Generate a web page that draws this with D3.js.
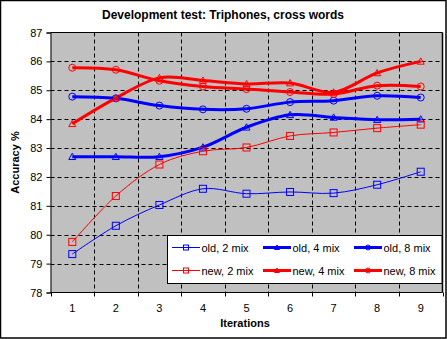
<!DOCTYPE html>
<html><head><meta charset="utf-8">
<script src="https://cdn.jsdelivr.net/npm/d3@7"></script>
<style>
body{margin:0;background:#fff;}
svg{display:block;font-family:"Liberation Sans",Arial,sans-serif;}
</style></head><body>
<svg id="c" width="447" height="339"></svg>
<script>
const iterations = [1,2,3,4,5,6,7,8,9];
const yTicks = [78,79,80,81,82,83,84,85,86,87];
const old2 = [79.33,80.31,81.03,81.59,81.42,81.48,81.44,81.73,82.18];
const old4 = [82.70,82.70,82.70,83.03,83.72,84.15,84.06,83.98,84.00];
const old8 = [84.78,84.72,84.47,84.34,84.36,84.59,84.64,84.81,84.75];
const new2 = [79.75,81.34,82.43,82.89,83.02,83.42,83.54,83.69,83.81];
const new4 = [83.84,84.73,85.43,85.34,85.22,85.25,84.93,85.60,86.00];
const new8 = [85.78,85.71,85.33,85.13,85.04,84.94,84.87,85.16,85.13];
const seriesNames = ["old, 2 mix","old, 4 mix","old, 8 mix","new, 2 mix","new, 4 mix","new, 8 mix"];
const seriesValues = [old2,old4,old8,new2,new4,new8];
const seriesColors = ["#0000ff","#0000ff","#0000ff","#ff0000","#ff0000","#ff0000"];
const seriesWidths = [1,3,3,1,3,3];
const seriesMarkers = ["square","triangle","circle","square","triangle","circle"];

const svg = d3.select("#c");
const L=50.5, R=442.5, T=32.5, B=292.5;

// outer border
svg.append("rect").attr("x",0.5).attr("y",0.5).attr("width",445.5).attr("height",337.5)
  .attr("fill","#fff").attr("stroke","#000").attr("stroke-width",1.5);

const x = d3.scaleBand().domain(iterations).range([L,R]).padding(0);
const y = d3.scaleLinear().domain([78,87]).range([B,T]);

svg.append("rect").attr("x",L).attr("y",T).attr("width",R-L).attr("height",B-T).attr("fill","#c0c0c0");

// gridlines
const g = svg.append("g");
yTicks.slice(1,-1).forEach(v=>{
  g.append("line").attr("x1",L).attr("x2",R).attr("y1",Math.round(y(v))+0.5).attr("y2",Math.round(y(v))+0.5)
   .attr("stroke","#000").attr("stroke-dasharray","4,3");
});
iterations.slice(1).forEach(v=>{
  const xx=Math.round(x(v))+0.5;
  g.append("line").attr("x1",xx).attr("x2",xx).attr("y1",T).attr("y2",B)
   .attr("stroke","#000").attr("stroke-dasharray","4,3");
});
// plot border top/right
svg.append("line").attr("x1",L).attr("x2",R).attr("y1",T).attr("y2",T).attr("stroke","#000");
svg.append("line").attr("x1",R).attr("x2",R).attr("y1",T).attr("y2",B).attr("stroke","#000").attr("stroke-width",1.5);

// axes
const yAxis = d3.axisLeft(y).tickValues(yTicks).tickSize(4).tickPadding(4).tickFormat(d3.format("d"));
const ya = svg.append("g").attr("transform",`translate(${L},0)`).call(yAxis);
const xAxis = d3.axisBottom(x).tickSize(0).tickPadding(12);
const xa = svg.append("g").attr("transform",`translate(0,${B})`).call(xAxis);
[ya,xa].forEach(a=>{
  a.select(".domain").attr("stroke","#000");
  a.selectAll(".tick line").attr("stroke","#000");
  a.selectAll("text").attr("font-size",11).attr("fill","#000").attr("font-family","Liberation Sans, Arial, sans-serif");
});
xa.select(".domain").remove();
svg.append("line").attr("x1",L).attr("x2",R).attr("y1",B).attr("y2",B).attr("stroke","#000");
// x tick marks at band boundaries
iterations.concat([null]).forEach((v,i)=>{
  const xx = v===null ? R : x(v);
  svg.append("line").attr("x1",Math.round(xx)+0.5).attr("x2",Math.round(xx)+0.5).attr("y1",B).attr("y2",B+4).attr("stroke","#000");
});

// titles
svg.append("text").attr("x",223).attr("y",19).attr("text-anchor","middle")
  .attr("font-size",12).attr("font-weight","bold").text("Development test: Triphones, cross words");
svg.append("text").attr("x",245).attr("y",327).attr("text-anchor","middle")
  .attr("font-size",11).attr("font-weight","bold").text("Iterations");
svg.append("text").attr("transform",`translate(18.5,${(T+B)/2}) rotate(-90)`).attr("text-anchor","middle")
  .attr("font-size",11).attr("font-weight","bold").text("Accuracy %");

function marker(sel, type, cx, cy, color, s){
  if(type==="square"){
    sel.append("rect").attr("x",cx-s).attr("y",cy-s).attr("width",2*s).attr("height",2*s)
      .attr("fill","none").attr("stroke",color).attr("stroke-width",1);
  } else if(type==="circle"){
    sel.append("circle").attr("cx",cx).attr("cy",cy).attr("r",s).attr("fill","none").attr("stroke",color).attr("stroke-width",1);
  } else {
    sel.append("path").attr("d",`M${cx},${cy-s}L${cx+s},${cy+s*0.8}L${cx-s},${cy+s*0.8}Z`)
      .attr("fill","none").attr("stroke",color).attr("stroke-width",1);
  }
}

const line = d3.line().x((d,i)=>x(iterations[i])+x.bandwidth()/2).y(d=>y(d)).curve(d3.curveCatmullRom.alpha(0));
const plot = svg.append("g");
seriesValues.forEach((vals,k)=>{
  plot.append("path").datum(vals).attr("d",line).attr("fill","none")
    .attr("stroke",seriesColors[k]).attr("stroke-width",seriesWidths[k]);
});
seriesValues.forEach((vals,k)=>{
  vals.forEach((v,i)=>{
    marker(plot, seriesMarkers[k], x(iterations[i])+x.bandwidth()/2, y(v), seriesColors[k], 3.5);
  });
});

// legend
const lg = svg.append("g");
lg.append("rect").attr("x",167.5).attr("y",235.5).attr("width",274.5).attr("height",48)
  .attr("fill","#fff").attr("stroke","#000");
const colX=[172,263,354];
const rowY=[247.5,270.5];
seriesNames.forEach((n,k)=>{
  const cx=colX[k%3], cy=rowY[Math.floor(k/3)];
  lg.append("line").attr("x1",cx).attr("x2",cx+28).attr("y1",cy).attr("y2",cy)
    .attr("stroke",seriesColors[k]).attr("stroke-width",seriesWidths[k]);
  marker(lg, seriesMarkers[k], cx+14, cy, seriesColors[k], 2.5);
  lg.append("text").attr("x",cx+29.5).attr("y",cy+4).attr("font-size",11).text(n);
});
</script></body></html>
